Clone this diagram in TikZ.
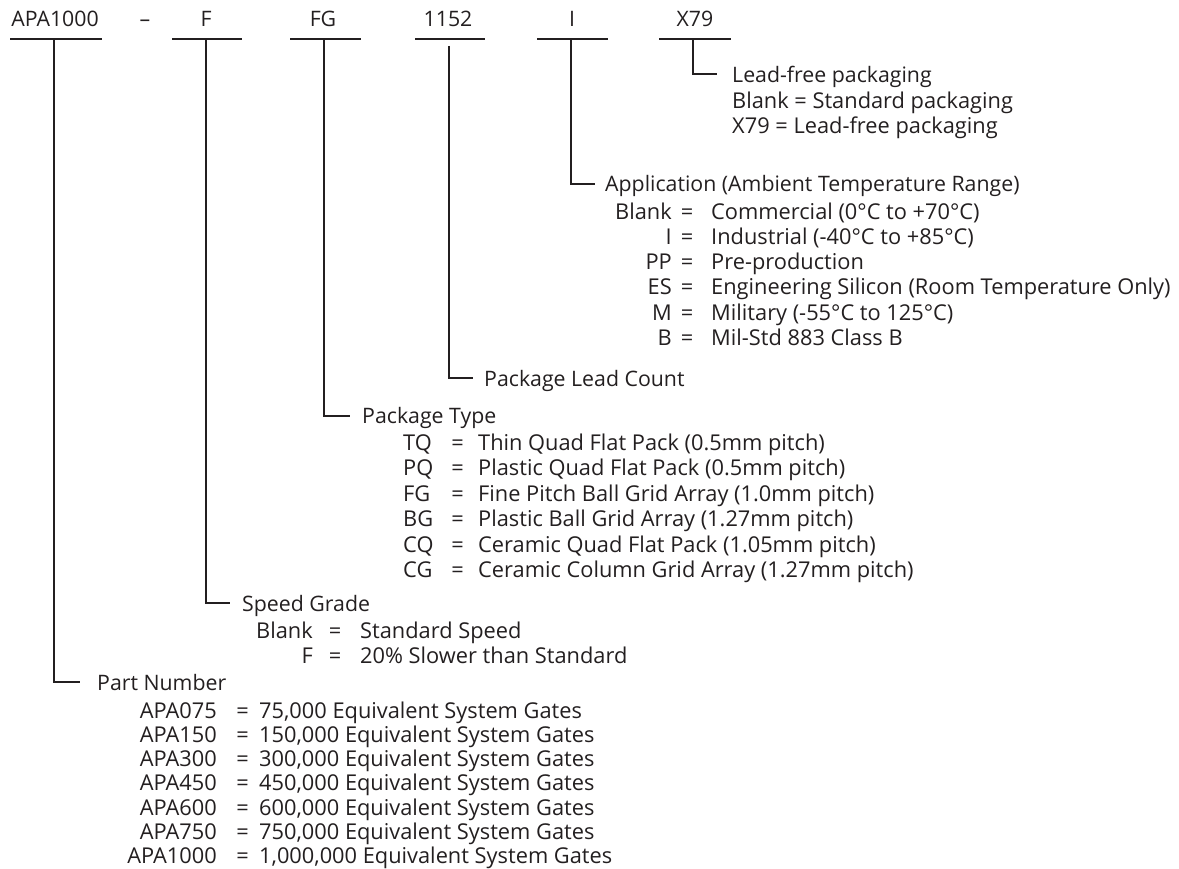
\documentclass[tikz,border=0pt]{standalone}
\usepackage{fontspec}
\setmainfont{Open Sans}
\definecolor{ink}{HTML}{231F20}
\newcommand\fs{\fontsize{21.3}{25}\selectfont}
\newcommand\fr{\fontsize{21.8}{25}\selectfont}
\begin{document}
\begin{tikzpicture}[x=1pt,y=-1pt,
  lbl/.style={font=\fs, text=ink, inner sep=0pt, anchor=base},
  row/.style={lbl, font=\fr},
  code/.style={row, anchor=base east},
  eqs/.style={row, anchor=base},
  desc/.style={row, anchor=base west},
  head/.style={lbl, anchor=base west},
  ln/.style={line width=2.1pt, draw=ink}]
\useasboundingbox (0,0) rectangle (1179,869);

% ---- top labels ----
\node[lbl] (tA) at (55,27) {APA1000};
\node[lbl] (tD) at (145,27) {–};
\node[lbl] (tF) at (206,27) {F};
\node[lbl] (tFG) at (323,27) {FG};
\node[lbl] (tN) at (448,27) {1152};
\node[lbl] (tI) at (572,27) {I};
\node[lbl] (tX) at (695,27) {X79};

% rules
\coordinate (A-l) at (10,39);  \coordinate (A-r) at (102,39); \coordinate (A-s) at (54,39);
\coordinate (F-l) at (172,39); \coordinate (F-r) at (242,39); \coordinate (F-s) at (206,39);
\coordinate (G-l) at (290,39); \coordinate (G-r) at (361,39); \coordinate (G-s) at (324,39);
\coordinate (N-l) at (415,39); \coordinate (N-r) at (485,39); \coordinate (N-s) at (449,46);
\coordinate (I-l) at (537,39); \coordinate (I-r) at (608,39); \coordinate (I-s) at (571,39);
\coordinate (X-l) at (659,39); \coordinate (X-r) at (731,39); \coordinate (X-s) at (693,39);
\foreach \k in {A,F,G,N,I,X} \draw[ln] (\k-l) -- (\k-r);

% elbow ends
\coordinate (X-e) at (717,74);
\coordinate (I-e) at (595,184);
\coordinate (N-e) at (473,378);
\coordinate (G-e) at (350,416);
\coordinate (F-e) at (230,603);
\coordinate (A-e) at (80,682);
\foreach \k in {A,F,G,N,I,X} \draw[ln] (\k-s) |- (\k-e);

% ---- X79 ----
\node[head] (hX) at (732,83) {Lead-free packaging};
\node[desc] (hX1) at (732,109) {Blank = Standard packaging};
\node[desc] (hX2) at (732,134) {X79 = Lead-free packaging};

% ---- Application ----
\node[head] (hI) at (605,192) {Application (Ambient Temperature Range)};
\foreach \c/\d [count=\i from 0] in {
  Blank/{Commercial (0°C to +70°C)},
  I/{Industrial (-40°C to +85°C)},
  PP/{Pre-production},
  ES/{Engineering Silicon (Room Temperature Only)},
  M/{Military (-55°C to 125°C)},
  B/{Mil-Std 883 Class B}}{
  \pgfmathsetmacro\yy{220+25*\i}
  \node[code] (ic\i) at (672,\yy) {\c};
  \node[eqs] (ie\i) at (687,\yy) {=};
  \node[desc] (id\i) at (711,\yy) {\d};
}

% ---- Package lead count ----
\node[head] (hN) at (484,386) {Package Lead Count};

% ---- Package type ----
\node[head] (hG) at (362,423) {Package Type};
\foreach \c/\d [count=\i from 0] in {
  TQ/{Thin Quad Flat Pack (0.5mm pitch)},
  PQ/{Plastic Quad Flat Pack (0.5mm pitch)},
  FG/{Fine Pitch Ball Grid Array (1.0mm pitch)},
  BG/{Plastic Ball Grid Array (1.27mm pitch)},
  CQ/{Ceramic Quad Flat Pack (1.05mm pitch)},
  CG/{Ceramic Column Grid Array (1.27mm pitch)}}{
  \pgfmathsetmacro\yy{450+25.5*\i}
  \node[row, anchor=base west] (gc\i) at (403,\yy) {\c};
  \node[eqs] (ge\i) at (457.5,\yy) {=};
  \node[desc] (gd\i) at (478,\yy) {\d};
}

% ---- Speed grade ----
\node[head] (hF) at (242,611) {Speed Grade};
\node[code] (fc0) at (313,638) {Blank};
\node[eqs] (fe0) at (335,638) {=};
\node[desc] (fd0) at (360,638) {Standard Speed};
\node[code] (fc1) at (313,663) {F};
\node[eqs] (fe1) at (335,663) {=};
\node[desc] (fd1) at (360,663) {20\% Slower than Standard};

% ---- Part number ----
\node[head] (hA) at (97,690) {Part Number};
\foreach \c/\d [count=\i from 0] in {
  APA075/{75,000 Equivalent System Gates},
  APA150/{150,000 Equivalent System Gates},
  APA300/{300,000 Equivalent System Gates},
  APA450/{450,000 Equivalent System Gates},
  APA600/{600,000 Equivalent System Gates},
  APA750/{750,000 Equivalent System Gates},
  APA1000/{1,000,000 Equivalent System Gates}}{
  \pgfmathsetmacro\yy{718+24.3*\i}
  \node[code] (ac\i) at (217,\yy) {\c};
  \node[eqs] (ae\i) at (242.5,\yy) {=};
  \node[desc] (ad\i) at (259,\yy) {\d};
}
\end{tikzpicture}
\end{document}
